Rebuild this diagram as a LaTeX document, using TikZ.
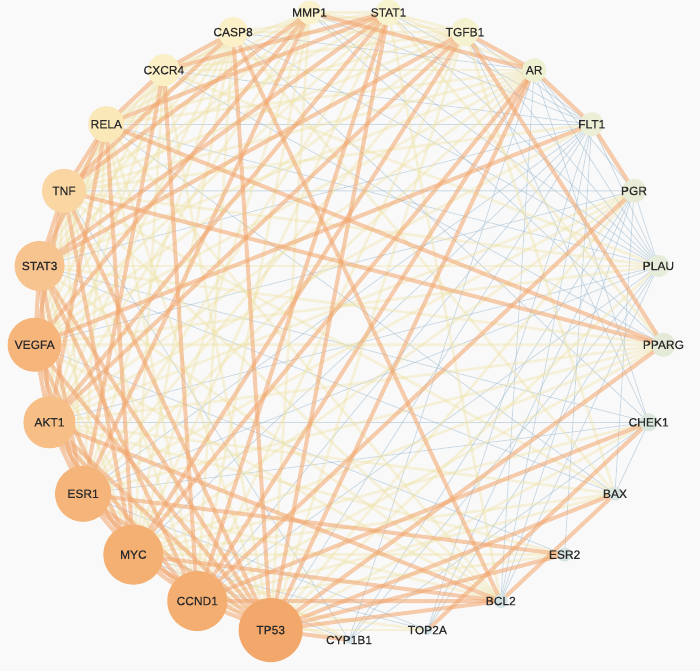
\documentclass[tikz,border=0pt]{standalone}
\usepackage{fontspec}
\setmainfont{Liberation Sans}
\newfontfamily\labfont[FakeBold=0.3]{Liberation Sans}
\pgfdeclarelayer{bg}
\pgfdeclarelayer{edges}
\pgfsetlayers{bg,edges,main}
\definecolor{bgc}{HTML}{F9F9F9}
\definecolor{oec}{HTML}{F2A66C}
\definecolor{yec}{HTML}{F0E4A8}
\definecolor{bec}{HTML}{9DBBD0}
\definecolor{labc}{HTML}{2A2A2A}
\tikzset{
  gnode/.style={circle, draw=none, inner sep=0pt},
  glabel/.style={font=\labfont\fontsize{12}{12}\selectfont, text=labc, inner sep=0pt},
  oe/.style={draw=oec, line width=4pt, opacity=0.55},
  ye/.style={draw=yec, line width=2.6pt, opacity=0.42},
  be/.style={draw=bec, line width=0.8pt, opacity=0.5},
}
\begin{document}
\begin{tikzpicture}[x=1pt,y=-1pt]
\useasboundingbox (0,0) rectangle (700,671);
\begin{pgfonlayer}{bg}
\fill[bgc] (0,0) rectangle (700,671);
\end{pgfonlayer}
\foreach \n/\i/\r/\c in {
 MMP1/0/12/FAF2CC, STAT1/1/13/F8F3CF, TGFB1/2/14/F5F2D0, AR/3/12/EEF0D2,
 FLT1/4/12/ECEFD6, PGR/5/12/E8ECD6, PLAU/6/11/E6ECDA, PPARG/7/12/E4EAD8,
 CHEK1/8/9/DCE8DE, BAX/9/7/D9E6E2, ESR2/10/7/D6E5E3, BCL2/11/7/D4E4E4,
 TOP2A/12/5/D2E3E6, CYP1B1/13/4/D0E2E8, TP53/14/32/F3A86B, CCND1/15/30/F4AE72,
 MYC/16/30/F4AF73, ESR1/17/28/F5B47A, AKT1/18/26/F7BE85, VEGFA/19/27/F5B57B,
 STAT3/20/25/F7C38E, TNF/21/22/F9D6A2, RELA/22/18/FAE8B8, CXCR4/23/16/FBEFC5,
 CASP8/24/15/FBF0C8}
{
  \definecolor{nc}{HTML}{\c}
  \node[gnode, minimum size=2*\r pt, fill=nc, label={[glabel]center:\n}] (\n)
    at ({349+315*sin(14.4*\i-7.2)},{325-315*cos(14.4*\i-7.2)}) {};
}
\begin{pgfonlayer}{edges}
\foreach \a/\b in {
 TP53/FLT1, CCND1/FLT1, CCND1/PLAU, MYC/FLT1, MYC/TOP2A, MYC/CYP1B1, ESR1/FLT1, ESR1/PLAU,
 ESR1/CHEK1, ESR1/TOP2A, AKT1/PLAU, AKT1/CHEK1, VEGFA/PGR, VEGFA/ESR2, STAT3/FLT1, STAT3/BAX,
 STAT3/CHEK1, TNF/PGR, TNF/CYP1B1, RELA/PLAU, RELA/BAX, RELA/FLT1, CXCR4/FLT1, CXCR4/PPARG,
 CASP8/AR, CASP8/PLAU, CASP8/CHEK1, STAT1/FLT1, STAT1/PLAU, MMP1/FLT1, MMP1/PLAU, MMP1/PPARG,
 TGFB1/FLT1, TGFB1/PLAU, TGFB1/CHEK1, AR/PGR, AR/PLAU, AR/CHEK1, AR/BCL2, AR/CYP1B1,
 FLT1/PLAU, FLT1/ESR2, FLT1/TOP2A, FLT1/BCL2, PGR/PLAU, PGR/CYP1B1, PGR/BCL2, PGR/TOP2A,
 PLAU/BCL2, PLAU/CYP1B1, CHEK1/BAX, CHEK1/CYP1B1, PGR/BAX, PLAU/TOP2A}
 \draw[be] (\a.center) -- (\b.center);
\foreach \a/\b in {
 TP53/PGR, TP53/PLAU, TP53/RELA, TP53/CXCR4, TP53/MMP1, TP53/TGFB1, TP53/CHEK1, TP53/TOP2A,
 CCND1/VEGFA, CCND1/TNF, CCND1/RELA, CCND1/TGFB1, CCND1/ESR2, CCND1/MMP1, CCND1/BAX,
 CCND1/TOP2A, CCND1/CYP1B1, CCND1/PPARG, CCND1/CASP8,
 MYC/STAT3, MYC/CASP8, MYC/STAT1, MYC/BAX, MYC/MMP1, MYC/PGR, MYC/PPARG, MYC/CHEK1, MYC/ESR2,
 MYC/CXCR4, ESR1/TNF, ESR1/RELA, ESR1/AR, ESR1/PGR, ESR1/BCL2, ESR1/CASP8, ESR1/STAT1,
 ESR1/TGFB1, ESR1/PPARG, ESR1/CYP1B1, AKT1/TNF, AKT1/CASP8, AKT1/AR, AKT1/BAX, AKT1/CXCR4,
 AKT1/MMP1, AKT1/PGR, AKT1/PPARG, AKT1/FLT1, AKT1/ESR2, VEGFA/RELA, VEGFA/CXCR4, VEGFA/STAT1,
 VEGFA/TGFB1, VEGFA/BCL2, VEGFA/CASP8, VEGFA/AR, VEGFA/PLAU, VEGFA/PPARG, STAT3/CXCR4,
 STAT3/MMP1, STAT3/AR, STAT3/BCL2, STAT3/CASP8, STAT3/PLAU, STAT3/PPARG, TNF/CXCR4, TNF/STAT1,
 TNF/TGFB1, TNF/AR, TNF/FLT1, TNF/PLAU, TNF/BCL2, TNF/BAX, RELA/CASP8, RELA/MMP1, RELA/AR,
 RELA/TGFB1, RELA/BCL2, CXCR4/MMP1, CXCR4/TGFB1, CXCR4/AR, CXCR4/PLAU, CASP8/STAT1,
 CASP8/TGFB1, CASP8/BAX, STAT1/TGFB1, STAT1/AR, STAT1/MMP1, STAT1/PPARG, STAT1/BCL2,
 MMP1/TGFB1, TGFB1/BAX}
 \draw[ye] (\a.center) -- (\b.center);
\foreach \a/\b in {
 TP53/CCND1, TP53/MYC, TP53/ESR1, TP53/AKT1, TP53/VEGFA, TP53/STAT3, TP53/TNF, TP53/CASP8,
 TP53/STAT1, TP53/AR, TP53/PPARG, TP53/BAX, TP53/BCL2, TP53/CYP1B1, TP53/ESR2,
 CCND1/MYC, CCND1/ESR1, CCND1/AKT1, CCND1/STAT3, CCND1/CXCR4, CCND1/STAT1, CCND1/AR,
 CCND1/PGR, CCND1/CHEK1, CCND1/BCL2,
 MYC/ESR1, MYC/AKT1, MYC/VEGFA, MYC/TNF, MYC/RELA, MYC/TGFB1, MYC/AR, MYC/BCL2,
 ESR1/AKT1, ESR1/VEGFA, ESR1/STAT3, ESR1/CXCR4, ESR1/MMP1, ESR1/ESR2,
 AKT1/VEGFA, AKT1/STAT3, AKT1/RELA, AKT1/STAT1, AKT1/TGFB1, AKT1/BCL2,
 VEGFA/STAT3, VEGFA/TNF, VEGFA/MMP1, VEGFA/FLT1,
 STAT3/TNF, STAT3/RELA, STAT3/STAT1, STAT3/TGFB1,
 TNF/RELA, TNF/CASP8, TNF/MMP1, TNF/PPARG,
 RELA/CXCR4, RELA/STAT1, RELA/PPARG,
 CXCR4/CASP8, CXCR4/STAT1, CASP8/BCL2, MMP1/AR,
 TGFB1/AR, TGFB1/PPARG, AR/FLT1, FLT1/PGR, CHEK1/TOP2A, BAX/BCL2}
 \draw[oe] (\a.center) -- (\b.center);
\end{pgfonlayer}
\end{tikzpicture}
\end{document}
